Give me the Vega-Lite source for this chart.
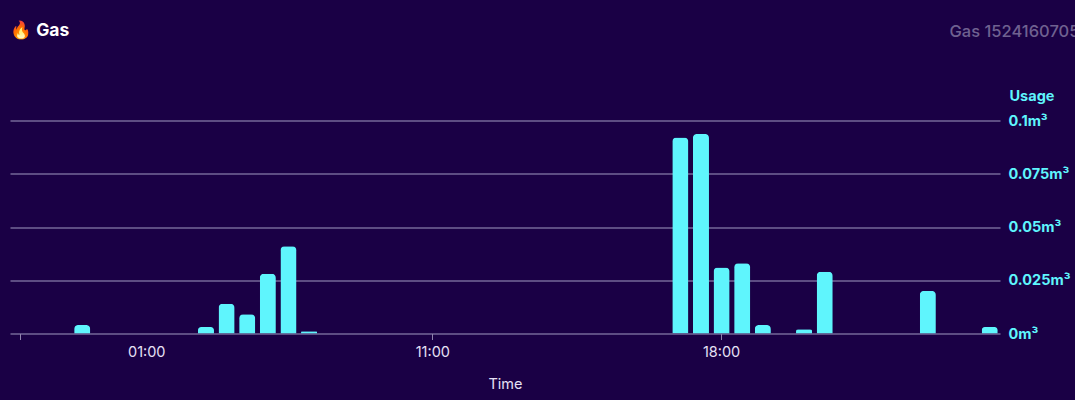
{"$schema":"https://vega.github.io/schema/vega-lite/v6.json","width":990,"height":213,"autosize":{"type":"none"},"padding":{"left":10,"top":120.5,"right":75,"bottom":66.5},"background":"#1a0045","view":{"stroke":null},"config":{"font":"Inter"},"title":{"text":"🔥 Gas","anchor":"start","frame":"group","orient":"top","offset":0,"dy":16,"color":"#ffffff","fontSize":17.5,"fontWeight":700,"font":"Inter"},"data":{"values":[{"slot":0,"usage":0},{"slot":1,"usage":0},{"slot":2,"usage":0},{"slot":3,"usage":0.004},{"slot":4,"usage":0},{"slot":5,"usage":0},{"slot":6,"usage":0},{"slot":7,"usage":0},{"slot":8,"usage":0},{"slot":9,"usage":0.003},{"slot":10,"usage":0.014},{"slot":11,"usage":0.009},{"slot":12,"usage":0.028},{"slot":13,"usage":0.041},{"slot":14,"usage":0.001},{"slot":15,"usage":0},{"slot":16,"usage":0},{"slot":17,"usage":0},{"slot":18,"usage":0},{"slot":19,"usage":0},{"slot":20,"usage":0},{"slot":21,"usage":0},{"slot":22,"usage":0},{"slot":23,"usage":0},{"slot":24,"usage":0},{"slot":25,"usage":0},{"slot":26,"usage":0},{"slot":27,"usage":0},{"slot":28,"usage":0},{"slot":29,"usage":0},{"slot":30,"usage":0},{"slot":31,"usage":0},{"slot":32,"usage":0.092},{"slot":33,"usage":0.0937},{"slot":34,"usage":0.031},{"slot":35,"usage":0.033},{"slot":36,"usage":0.004},{"slot":37,"usage":0},{"slot":38,"usage":0.002},{"slot":39,"usage":0.029},{"slot":40,"usage":0},{"slot":41,"usage":0},{"slot":42,"usage":0},{"slot":43,"usage":0},{"slot":44,"usage":0.02},{"slot":45,"usage":0},{"slot":46,"usage":0},{"slot":47,"usage":0.003}]},"encoding":{"x":{"field":"slot","type":"ordinal","scale":{"paddingInner":0.22,"paddingOuter":0.11},"axis":{"orient":"bottom","values":[0,6,20,34],"labelExpr":"datum.value==6?'01:00':datum.value==20?'11:00':datum.value==34?'18:00':''","labelAngle":0,"labelColor":"#e6e0f5","labelFontSize":14.5,"labelPadding":6,"labelOffset":{"condition":{"test":"datum.value==6","value":2.7},"value":0},"tickColor":"#8f83ad","tickSize":6,"tickOpacity":{"condition":{"test":"datum.value==6","value":0},"value":1},"domain":false,"grid":false,"title":"Time","titleColor":"#e6e0f5","titleFontSize":14.5,"titleFontWeight":400,"titleBaseline":"middle","titleX":495,"titleY":51}},"y":{"field":"usage","type":"quantitative","scale":{"domain":[0,0.1]}}},"layer":[{"mark":{"type":"bar","opacity":0},"encoding":{"y":{"field":"usage","type":"quantitative","scale":{"domain":[0,0.1]},"axis":{"orient":"left","values":[0,0.025,0.05,0.075,0.1],"grid":true,"gridColor":"#756799","gridWidth":1.3,"domain":false,"ticks":false,"labels":false,"title":"Gas 1524160705","titleAngle":0,"titleAlign":"left","titleBaseline":"middle","titleX":939,"titleY":-89,"titleColor":"#6f6190","titleFontSize":16.5,"titleFontWeight":500}}}},{"mark":{"type":"bar","color":"#5ff5fd","cornerRadiusTopLeft":4,"cornerRadiusTopRight":4,"cornerRadiusBottomLeft":0,"cornerRadiusBottomRight":0},"encoding":{"y":{"field":"usage","type":"quantitative","scale":{"domain":[0,0.1]},"axis":{"orient":"right","values":[0,0.025,0.05,0.075,0.1],"labelExpr":"datum.value+'m³'","grid":false,"domain":false,"ticks":false,"labelPadding":8,"labelColor":"#5ff5fd","labelFontSize":14.5,"labelFontWeight":700,"labelOffset":0.7,"title":"Usage","titleAngle":0,"titleAlign":"left","titleBaseline":"middle","titleX":9,"titleY":-24,"titleColor":"#5ff5fd","titleFontSize":14.5,"titleFontWeight":700}}}}],"resolve":{"axis":{"y":"independent"}}}
